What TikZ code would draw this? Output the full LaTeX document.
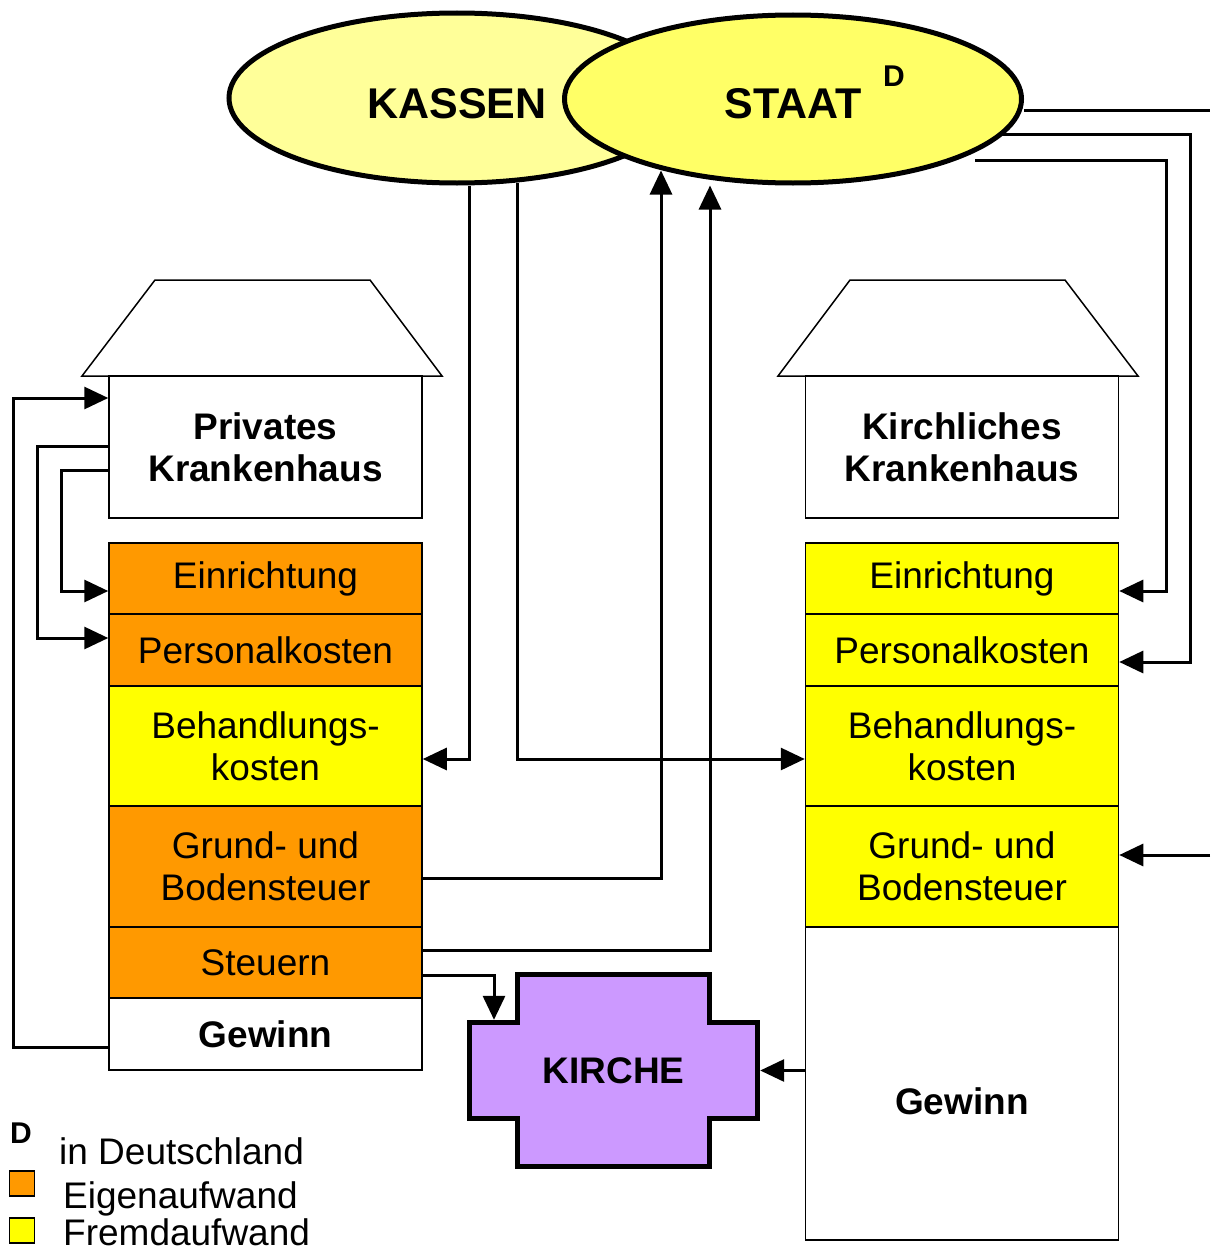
\documentclass[tikz,border=0pt]{standalone}
\usepackage{fontspec}
\setmainfont{Liberation Sans}
\usetikzlibrary{arrows.meta,shapes.geometric}
\definecolor{orng}{HTML}{FF9900}
\definecolor{yell}{HTML}{FFFF00}
\definecolor{kassenfill}{HTML}{FFFF99}
\definecolor{staatfill}{HTML}{FFFF66}
\definecolor{lila}{HTML}{CC99FF}
\tikzset{
  cell/.style={draw, line width=1.5pt, minimum width=313pt, inner sep=0pt, align=center, font=\fontsize{37}{42}\selectfont},
  boldcell/.style={cell, font=\fontsize{37}{42}\selectfont\bfseries},
  conn/.style={line width=3pt},
  tip/.style={-{Triangle[length=24pt,width=22pt]}},
  bub/.style={ellipse, draw, line width=5pt, inner sep=0pt},
  roof/.style={draw, line width=1.5pt, fill=white},
  bubtext/.style={font=\fontsize{43}{48}\selectfont\bfseries},
  legsq/.style={draw, line width=1.5pt, minimum width=25pt, minimum height=25pt, inner sep=0pt},
  legtext/.style={anchor=base west, inner sep=0pt, font=\fontsize{37}{42}\selectfont},
  supD/.style={font=\fontsize{30}{33}\selectfont\bfseries, inner sep=0pt},
}
\begin{document}
\begin{tikzpicture}[x=1pt,y=-1pt]
\useasboundingbox (0,0) rectangle (1210,1255);

% houses: roofs
\draw[roof] (82,376) -- (155,280) -- (370,280) -- (442,376) -- cycle;
\draw[roof] (778,376) -- (850,280) -- (1065,280) -- (1138,376) -- cycle;

% left column
\node[boldcell, fill=white, minimum height=142pt] (privK) at (265.5,447) {Privates\\Krankenhaus};
\node[cell, fill=orng, minimum height=71pt] (lE) at (265.5,578.5) {Einrichtung};
\node[cell, fill=orng, minimum height=72pt] (lP) at (265.5,650) {Personalkosten};
\node[cell, fill=yell, minimum height=120pt] (lB) at (265.5,746) {Behandlungs-\\kosten};
\node[cell, fill=orng, minimum height=121pt] (lG) at (265.5,866.5) {Grund- und\\Bodensteuer};
\node[cell, fill=orng, minimum height=71pt] (lS) at (265.5,962.5) {Steuern};
\node[boldcell, fill=white, minimum height=72pt] (lW) at (265.5,1034) {Gewinn};

% right column
\node[boldcell, fill=white, minimum height=142pt] (kirK) at (962,447) {Kirchliches\\Krankenhaus};
\node[cell, fill=yell, minimum height=71pt] (rE) at (962,578.5) {Einrichtung};
\node[cell, fill=yell, minimum height=72pt] (rP) at (962,650) {Personalkosten};
\node[cell, fill=yell, minimum height=120pt] (rB) at (962,746) {Behandlungs-\\kosten};
\node[cell, fill=yell, minimum height=121pt] (rG) at (962,866.5) {Grund- und\\Bodensteuer};
\node[cell, fill=white, minimum height=313pt] (rW) at (962,1083.5) {};
\node[font=\fontsize{37}{42}\selectfont\bfseries] (rWt) at (962,1101) {Gewinn};

% ellipses
\node[bub, fill=kassenfill, minimum width=456pt, minimum height=170pt] (kassen) at (457,98) {};
\node[bubtext] (kassenT) at (457,104) {KASSEN};
\node[bub, fill=staatfill, minimum width=457pt, minimum height=168pt] (staat) at (793,99) {};
\node[bubtext] (staatT) at (793,104) {STAAT};
\node[supD] (staatD) at (894,76) {D};

% KIRCHE cross
\draw[line width=5pt, fill=lila]
  (517.5,974.5) -- (709.5,974.5) -- (709.5,1022.5) -- (757.5,1022.5) -- (757.5,1118.5)
  -- (709.5,1118.5) -- (709.5,1166.5) -- (517.5,1166.5) -- (517.5,1118.5) -- (469.5,1118.5)
  -- (469.5,1022.5) -- (517.5,1022.5) -- cycle;
\node[minimum width=293pt, minimum height=101pt, inner sep=0pt, font=\fontsize{37}{42}\selectfont\bfseries] (kirche) at (613.5,1070.5) {KIRCHE};

% free ends
\coordinate (offR1) at (1210,110);
\coordinate (offR2) at (1210,855);

% connectors from KASSEN
\draw[conn,tip] ([xshift=12pt]kassen.south) |- ([yshift=-13pt]lB.east);
\draw[conn,tip] ([xshift=60pt,yshift=3pt]kassen.south) |- ([yshift=-13pt]rB.west);

% connectors to STAAT
\draw[conn,tip] ([yshift=-11.5pt]lG.east) -| ([xshift=-132pt,yshift=15pt]staat.south);
\draw[conn,tip] ([yshift=12.5pt]lS.east) -| ([xshift=-83pt]staat.south);

% Steuern to KIRCHE
\draw[conn,tip] ([yshift=-12.5pt]lS.east) -| ([xshift=-119.5pt]kirche.north);
% Gewinn (right) to KIRCHE
\draw[conn,tip] (rW.west |- kirche.east) -- (kirche.east);

% STAAT to right column
\draw[conn] ([yshift=-11pt]staat.east) -- (offR1);
\draw[conn,tip] ([xshift=182pt,yshift=25pt]staat.south) -| ([xshift=47pt,yshift=-12.5pt]rE.east) -- ([yshift=-12.5pt]rE.east);
\draw[conn,tip] ([xshift=208pt,yshift=-35pt]staat.center) -| ([xshift=71pt,yshift=-12pt]rP.east) -- ([yshift=-12pt]rP.east);
\draw[conn,tip] (offR2) -- ([yshift=11.5pt]rG.east);

% left loops
\draw[conn,tip] ([yshift=1pt]privK.west) -- ++(-71,0) |- ([yshift=12pt]lP.west);
\draw[conn,tip] ([yshift=-23pt]privK.west) -- ++(-47,0) |- ([yshift=-12.5pt]lE.west);
\draw[conn,tip] ([yshift=-13pt]lW.west) -- ++(-95,0) |- ([yshift=49pt]privK.west);

% legend
\node[supD] (legD) at (21,1133) {D};
\node[legtext] (legT1) at (59,1164) {in Deutschland};
\node[legsq, fill=orng] (legO) at (22,1183.5) {};
\node[legtext] (legT2) at (63,1208) {Eigenaufwand};
\node[legsq, fill=yell] (legY) at (22,1230.5) {};
\node[legtext] (legT3) at (63,1245) {Fremdaufwand};
\end{tikzpicture}
\end{document}
